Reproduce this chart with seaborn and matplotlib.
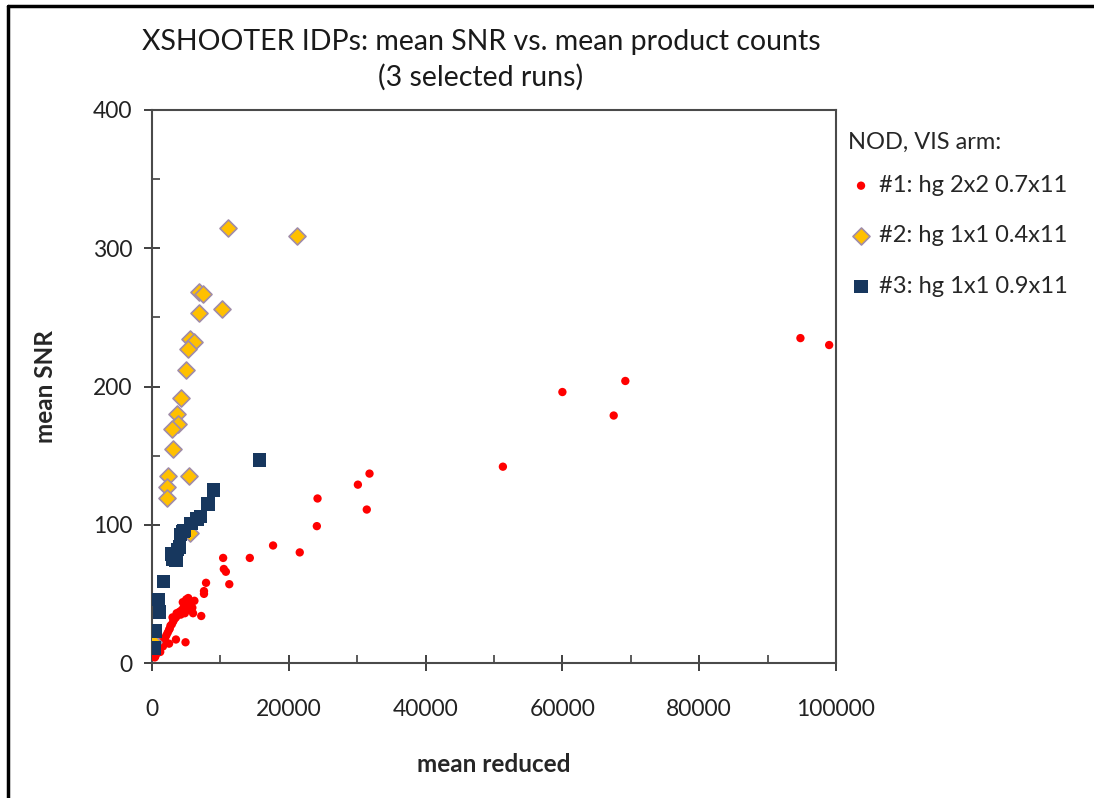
import matplotlib
matplotlib.use("Agg")
import matplotlib.pyplot as plt
from matplotlib.ticker import MultipleLocator
from matplotlib.lines import Line2D
import seaborn as sns
import pandas as pd

# ---- data ----
run1_x = [94800, 99000, 69200, 60000, 67500, 51300, 31800, 30100, 31400, 24200,
          24100, 17700, 21600, 14300, 10400, 10500, 10800, 11300, 7900, 7600,
          7600, 7200, 4900, 3500, 2500,
          5300, 5700, 6200, 5900, 5000, 4600, 4300, 4000, 3800, 3500,
          3300, 3100, 2900, 2700, 2500, 2300, 2100, 1900, 1700, 1500,
          1300, 1100, 900, 700, 500, 3600, 4200, 4800, 5500, 6000,
          2600, 3000, 2000, 1600, 1200, 800, 1000, 400, 4500, 5000]
run1_y = [235, 230, 204, 196, 179, 142, 137, 129, 111, 119,
          99, 85, 80, 76, 76, 68, 66, 57, 58, 52,
          50, 34, 15, 17, 14,
          47, 44, 45, 40, 42, 40, 38, 37, 35, 33,
          32, 30, 28, 27, 24, 22, 20, 18, 16, 14,
          12, 10, 8, 7, 5, 36, 35, 36, 39, 36,
          25, 33, 15, 12, 8, 11, 15, 4, 44, 46]

run2_x = [11100, 21200, 6900, 7500, 6900, 10200, 5600, 6100, 5300, 4900,
          4200, 3600, 3800, 2900, 3100, 2400, 5400, 2200, 2200, 5500, 100]
run2_y = [315, 309, 268, 267, 253, 256, 234, 232, 227, 212,
          192, 180, 173, 169, 155, 135, 135, 127, 119, 94, 15]

run3_x = [15700, 9000, 8200, 7100, 6600, 5700, 4700, 4200, 4500, 3700,
          3300, 2900, 3100, 3500, 4000, 1700, 900, 1100, 400, 300]
run3_y = [147, 125, 115, 106, 104, 101, 96, 93, 95, 82,
          78, 79, 75, 74, 84, 59, 46, 37, 23, 11]

labels = ["#1: hg 2x2 0.7x11", "#2: hg 1x1 0.4x11", "#3: hg 1x1 0.9x11"]
legend_title = "NOD, VIS arm:"
title = "XSHOOTER IDPs: mean SNR vs. mean product counts\n(3 selected runs)"
xlabel = "mean reduced"
ylabel = "mean SNR"

df1 = pd.DataFrame({"x": run1_x, "y": run1_y})
df2 = pd.DataFrame({"x": run2_x, "y": run2_y})
df3 = pd.DataFrame({"x": run3_x, "y": run3_y})

sns.set_theme(style="white")
plt.rcParams["font.family"] = ["Lato", "DejaVu Sans"]

fig = plt.figure(figsize=(10.94, 7.98), dpi=100)
ax = fig.add_axes([152/1094, 1 - 663/798, (836-152)/1094, (663-110)/798])

sns.scatterplot(data=df1, x="x", y="y", ax=ax, marker="o", s=36,
                color="#FF0000", edgecolor="none", label=labels[0], zorder=3)
sns.scatterplot(data=df2, x="x", y="y", ax=ax, marker="D", s=75,
                color="#FFC000", edgecolor="#A08CA8", linewidth=1.2,
                label=labels[1], zorder=4)
sns.scatterplot(data=df3, x="x", y="y", ax=ax, marker="s", s=95,
                color="#17375E", edgecolor="none", label=labels[2], zorder=5)

ax.set_xlim(0, 100000)
ax.set_ylim(0, 400)
ax.xaxis.set_major_locator(MultipleLocator(20000))
ax.xaxis.set_minor_locator(MultipleLocator(10000))
ax.yaxis.set_major_locator(MultipleLocator(100))
ax.yaxis.set_minor_locator(MultipleLocator(50))
ax.tick_params(which="major", direction="inout", length=12, width=1.4,
               color="#404040", labelsize=16.5, labelcolor="#222222")
ax.tick_params(axis="x", which="major", pad=20)
ax.tick_params(axis="y", which="major", pad=8)
ax.tick_params(which="minor", direction="in", length=6, width=1.2,
               color="#404040")
ax.tick_params(axis="both", which="both", bottom=True, left=True)
for side in ["left", "bottom", "top", "right"]:
    ax.spines[side].set_visible(True)
    ax.spines[side].set_color("#4a4a4a")
    ax.spines[side].set_linewidth(1.5)
ax.grid(False)

ax.set_xlabel(xlabel, fontsize=17.5, fontweight="bold", labelpad=24)
ax.set_ylabel(ylabel, fontsize=17.5, fontweight="bold", labelpad=26)

fig.text(481/1094, 1 - 60/798, title, ha="center", va="center",
         fontsize=20.5, linespacing=1.4, color="#1a1a1a")

leg = ax.legend(title=legend_title, loc="upper left",
                bbox_to_anchor=(0.99, 0.995), frameon=False, fontsize=17,
                title_fontsize=17, labelspacing=1.25, handletextpad=0.2,
                handlelength=1.1, borderaxespad=0.4)
leg._legend_box.align = "left"
leg._legend_box.sep = 16

# outer frame of the figure (left and top edges visible)
fx = 7.5 / 1094
fy = 1 - 5.5 / 798
fig.lines.append(Line2D([fx, fx], [0, fy], transform=fig.transFigure,
                        color="black", linewidth=2.5))
fig.lines.append(Line2D([fx, 1], [fy, fy], transform=fig.transFigure,
                        color="black", linewidth=2.5))

fig.savefig("out.png", dpi=100, facecolor="white")
